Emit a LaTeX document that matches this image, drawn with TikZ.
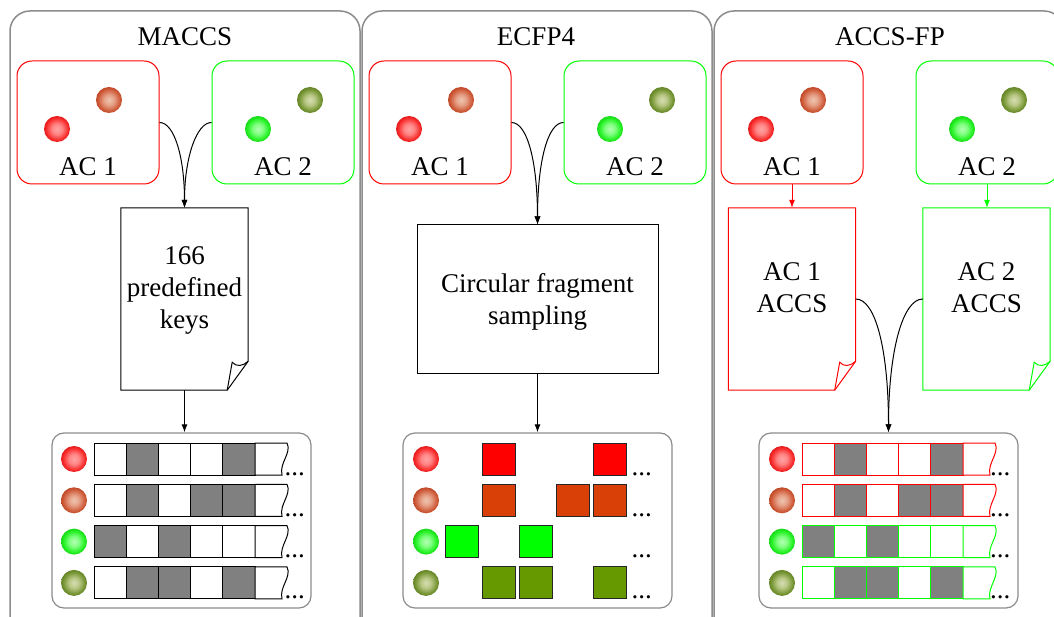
\documentclass[tikz,border=0pt]{standalone}
\usepackage{fontspec}
\setmainfont{Liberation Serif}
\usetikzlibrary{arrows.meta,calc}
\definecolor{panelgray}{RGB}{140,140,140}
\definecolor{acred}{RGB}{255,0,0}
\definecolor{acgreen}{RGB}{0,255,0}
\definecolor{sqorange}{RGB}{216,64,8}
\definecolor{sqolive}{RGB}{102,153,0}
\definecolor{bitgray}{RGB}{128,128,128}
\pgfdeclareradialshading{ballR}{\pgfpoint{0bp}{0bp}}{rgb(0bp)=(1,0.64,0.64); rgb(10bp)=(1,0.52,0.52); rgb(20bp)=(0.98,0.2,0.2); rgb(25bp)=(0.9,0.1,0.1); rgb(50bp)=(0.9,0.1,0.1)}
\pgfdeclareradialshading{ballO}{\pgfpoint{0bp}{0bp}}{rgb(0bp)=(0.93,0.77,0.69); rgb(10bp)=(0.9,0.63,0.53); rgb(20bp)=(0.82,0.38,0.25); rgb(25bp)=(0.75,0.28,0.15); rgb(50bp)=(0.75,0.28,0.15)}
\pgfdeclareradialshading{ballG}{\pgfpoint{0bp}{0bp}}{rgb(0bp)=(0.7,1,0.7); rgb(10bp)=(0.5,1,0.5); rgb(20bp)=(0.15,0.95,0.15); rgb(25bp)=(0.1,0.85,0.1); rgb(50bp)=(0.1,0.85,0.1)}
\pgfdeclareradialshading{ballL}{\pgfpoint{0bp}{0bp}}{rgb(0bp)=(0.84,0.87,0.7); rgb(10bp)=(0.72,0.78,0.52); rgb(20bp)=(0.48,0.6,0.22); rgb(25bp)=(0.4,0.52,0.15); rgb(50bp)=(0.4,0.52,0.15)}
\newcommand\docoutline[2]{%
 \draw[#2, line width=1pt, fill=white] (#1.north west) -- (#1.north east) -- ([yshift=29pt]#1.south east) -- ([xshift=-21pt]#1.south east) -- (#1.south west) -- cycle;
 \draw[#2, line width=1pt] ([xshift=-21pt]#1.south east) -- ([xshift=-16pt,yshift=28pt]#1.south east) .. controls ([xshift=-12pt,yshift=23pt]#1.south east) and ([xshift=-5pt,yshift=24pt]#1.south east) .. ([yshift=29pt]#1.south east);
}
\tikzset{
 panel/.style={draw=panelgray, line width=1.5pt, rounded corners=20pt, minimum width=350pt, minimum height=640pt, inner sep=0pt},
 lbl/.style={anchor=base, inner sep=0pt},
 mtext/.style={align=center, inner sep=0pt},
 acbox/.style={draw=#1, line width=1pt, rounded corners=15pt, minimum width=142pt, minimum height=123pt, inner sep=0pt},
 sball/.style={circle, minimum size=26pt, inner sep=0pt, shade, shading=#1},
 docnode/.style={minimum width=127pt, minimum height=182pt, inner sep=0pt},
 proc/.style={draw, line width=1pt, minimum width=241pt, minimum height=148pt, inner sep=0pt},
 bitbox/.style={draw=panelgray, line width=1.2pt, rounded corners=12pt, minimum width=#1, minimum height=175pt, inner sep=0pt},
 cell/.style={draw=#1, line width=1pt, minimum width=32.2pt, minimum height=32pt, inner sep=0pt},
 sq/.style={draw=black!85, line width=1pt, fill=#1, minimum width=33pt, minimum height=32pt, inner sep=0pt},
 dotsnode/.style={anchor=base west, inner sep=0pt},
 conn/.style={line width=1pt, -{Latex[length=8pt,width=6pt]}},
}
\begin{document}
\begin{tikzpicture}[x=1pt,y=-1pt, font=\fontsize{27}{32}\selectfont]
\useasboundingbox (0,0) rectangle (1054,617);
\clip (0,0) rectangle (1054,617);
\fill[white] (0,0) rectangle (1054,617);
% panels
\node[panel] (pan1) at (185,331) {};
\node[panel] (pan2) at (537,331) {};
\node[panel] (pan3) at (889,331) {};
\node[lbl] (t1) at (185,46) {MACCS};
\node[lbl] (t2) at (536,46) {ECFP4};
\node[lbl] (t3) at (890,46) {ACCS-FP};
% AC boxes
\foreach \p/\ox in {1/0, 2/352, 3/704} {
  \node[acbox=acred] (ac1-\p) at ({88+\ox},122.5) {};
  \node[sball=ballR] (ac1-\p-r) at ({57+\ox},129) {};
  \node[sball=ballO] (ac1-\p-o) at ({109+\ox},100) {};
  \node[lbl] (ac1-\p-t) at ({88+\ox},176) {AC 1};
  \node[acbox=acgreen] (ac2-\p) at ({283+\ox},122.5) {};
  \node[sball=ballG] (ac2-\p-g) at ({258+\ox},129) {};
  \node[sball=ballL] (ac2-\p-l) at ({310+\ox},100) {};
  \node[lbl] (ac2-\p-t) at ({283+\ox},176) {AC 2};
}
% MACCS document
\node[docnode] (m-doc) at (184.5,299) {};
\docoutline{m-doc}{black}
\node[mtext] (m-doc-t) at (184.5,290.5) {166\\predefined\\keys};
% ECFP process
\node[proc] (e-proc) at (537.5,299) {};
\node[mtext] (e-proc-t) at (537.5,302) {Circular fragment\\sampling};
% ACCS documents
\node[docnode] (a-doc1) at (792,299) {};
\docoutline{a-doc1}{acred}
\node[mtext] (a-doc1-t) at (792,287.5) {AC 1\\ACCS};
\node[docnode] (a-doc2) at (986.5,299) {};
\docoutline{a-doc2}{acgreen}
\node[mtext] (a-doc2-t) at (986.5,287.5) {AC 2\\ACCS};
% bit boxes
\node[bitbox=259pt] (m-bits) at (181.5,520.5) {};
\node[bitbox=269pt] (e-bits) at (537.5,520.5) {};
\node[bitbox=259pt] (a-bits) at (888.5,520.5) {};
\foreach \r/\s in {1/ballR,2/ballO,3/ballG,4/ballL} {
  \node[sball=\s] (m-c\r) at (74,{459+41.3*(\r-1)}) {};
  \node[sball=\s] (e-c\r) at (426,{459+41.3*(\r-1)}) {};
  \node[sball=\s] (a-c\r) at (782,{459+41.3*(\r-1)}) {};
}
\foreach \r/\bits in {1/{0,1,0,0,1},2/{0,1,0,1,1},3/{1,0,1,0,0},4/{0,1,1,0,1}} {
  \pgfmathsetmacro\yc{459+41.3*(\r-1)}
  \ifnum\r<3 \def\ac{acred}\else\def\ac{acgreen}\fi
  \foreach \v [count=\k] in \bits {
    \ifnum\v=1 \def\fc{bitgray}\else\def\fc{white}\fi
    \node[cell=black, fill=\fc] (m-\r-\k) at ({94+32.2*(\k-0.5)},\yc) {};
    \node[cell=\ac, fill=\fc] (a-\r-\k) at ({802+32.2*(\k-0.5)},\yc) {};
  }
  \draw[line width=1pt, fill=white] (255,{\yc-16}) -- (287,{\yc-16}) .. controls (292,{\yc-6}) and (279,{\yc+4}) .. (282,{\yc+16}) -- (255,{\yc+16}) -- cycle;
  \draw[\ac, line width=1pt, fill=white] (963,{\yc-16}) -- (995,{\yc-16}) .. controls (1000,{\yc-6}) and (987,{\yc+4}) .. (990,{\yc+16}) -- (963,{\yc+16}) -- cycle;
  \node[dotsnode] (m-d\r) at (284.5,{\yc+16}) {...};
  \node[dotsnode] (e-d\r) at (631.5,{\yc+16}) {...};
  \node[dotsnode] (a-d\r) at (990,{\yc+16}) {...};
}
\foreach \r/\k/\col in {1/2/acred, 1/5/acred, 2/2/sqorange, 2/4/sqorange, 2/5/sqorange, 3/1/acgreen, 3/3/acgreen, 4/2/sqolive, 4/3/sqolive, 4/5/sqolive} {
  \node[sq=\col] (e-\r-\k) at ({461.5+37.2*(\k-1)},{459+41.3*(\r-1)}) {};
}
% connectors
\draw[conn] (ac1-1.east) .. controls +(15,0) and +(0,-50) .. (m-doc.north);
\draw[conn] (ac2-1.west) .. controls +(-15,0) and +(0,-50) .. (m-doc.north);
\draw[conn] (m-doc.south) -- (m-doc.south |- m-bits.north);
\draw[conn] (ac1-2.east) .. controls +(16,0) and +(0,-62) .. (e-proc.north);
\draw[conn] (ac2-2.west) .. controls +(-16,0) and +(0,-62) .. (e-proc.north);
\draw[conn] (e-proc.south) -- (e-proc.south |- e-bits.north);
\draw[conn, acred] (ac1-3.south) -- (ac1-3.south |- a-doc1.north);
\draw[conn, acgreen] (ac2-3.south) -- (ac2-3.south |- a-doc2.north);
\draw[conn] (a-doc1.east) .. controls +(20,0) and +(0,-82) .. (a-bits.north);
\draw[conn] (a-doc2.west) .. controls +(-20,0) and +(0,-82) .. (a-bits.north);
\end{tikzpicture}
\end{document}
